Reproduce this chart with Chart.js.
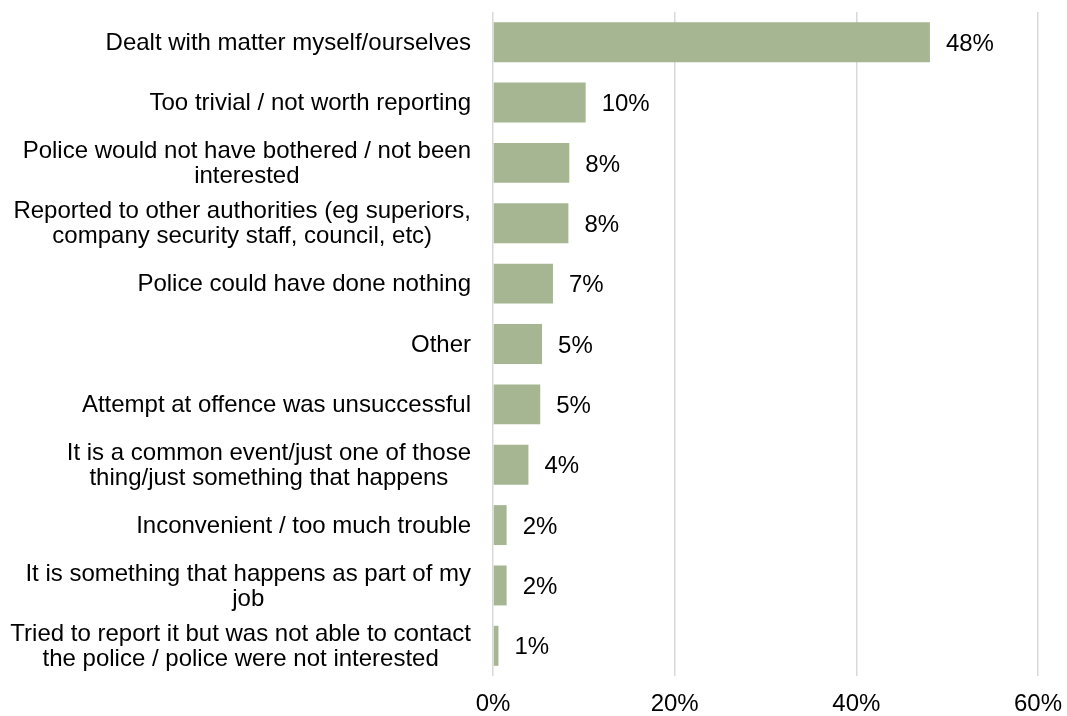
<!DOCTYPE html>
<html lang="en">
<head>
  <meta charset="UTF-8">
  <title>Reasons for not reporting</title>
  <style>
    html, body {
      margin: 0;
      padding: 0;
      background: #ffffff;
    }
    .wrap {
      width: 1067px;
      height: 716px;
      position: relative;
    }
  </style>
</head>
<body>
  <div class="wrap">
    <canvas id="reasonsChart"></canvas>
  </div>

  <script src="https://cdn.jsdelivr.net/npm/chart.js"></script>
  <script>
    // reasons, each one split into its printed lines
    const reasons = [
      ["Dealt with matter myself/ourselves"],
      ["Too trivial / not worth reporting"],
      ["Police would not have bothered / not been", "interested"],
      ["Reported to other authorities (eg superiors,", "company security staff, council, etc)"],
      ["Police could have done nothing"],
      ["Other"],
      ["Attempt at offence was unsuccessful"],
      ["It is a common event/just one of those", "thing/just something that happens"],
      ["Inconvenient / too much trouble"],
      ["It is something that happens as part of my", "job"],
      ["Tried to report it but was not able to contact", "the police / police were not interested"]
    ];
    const shares = [48.1, 10.2, 8.4, 8.3, 6.6, 5.4, 5.2, 3.9, 1.5, 1.5, 0.6];
    const xTicks = [0, 20, 40, 60];

    const FONT = "'Liberation Sans', Arial, sans-serif";
    const FONT_SIZE = 24;
    const PLOT_LEFT = 493;

    // category names drawn by hand so that wrapped lines centre on each other
    const categoryLabels = {
      id: 'categoryLabels',
      afterDraw(chart) {
        const ctx = chart.ctx;
        const y = chart.scales.y;
        const lineH = 25;
        ctx.save();
        ctx.font = FONT_SIZE + "px " + FONT;
        ctx.fillStyle = "#000000";
        ctx.textAlign = "center";
        ctx.textBaseline = "middle";
        reasons.forEach((lines, i) => {
          const cy = y.getPixelForValue(i) + 1;
          const w = Math.max(...lines.map(l => ctx.measureText(l).width));
          const cx = PLOT_LEFT - 22 - w / 2;
          const top = cy - (lines.length - 1) * lineH / 2;
          lines.forEach((l, k) => ctx.fillText(l, cx, top + k * lineH));
        });
        ctx.restore();
      }
    };

    // percentage label just past the end of each bar
    const valueLabels = {
      id: 'valueLabels',
      afterDatasetsDraw(chart) {
        const ctx = chart.ctx;
        const meta = chart.getDatasetMeta(0);
        ctx.save();
        ctx.font = FONT_SIZE + "px " + FONT;
        ctx.fillStyle = "#000000";
        ctx.textAlign = "left";
        ctx.textBaseline = "middle";
        meta.data.forEach((bar, i) => {
          ctx.fillText(Math.round(shares[i]) + "%", bar.x + 16, bar.y + 2);
        });
        ctx.restore();
      }
    };

    const ctx = document.getElementById("reasonsChart").getContext("2d");
    new Chart(ctx, {
      type: 'bar',
      data: {
        labels: reasons.map(r => r.join(" ")),
        datasets: [{
          data: shares,
          backgroundColor: '#a6b592',
          borderWidth: 0,
          barPercentage: 0.735,
          categoryPercentage: 0.9
        }]
      },
      options: {
        indexAxis: 'y',
        responsive: true,
        maintainAspectRatio: false,
        animation: false,
        layout: {
          padding: { top: 12, right: 29, bottom: 0, left: 0 }
        },
        plugins: {
          legend: { display: false },
          tooltip: { enabled: false }
        },
        scales: {
          x: {
            min: 0,
            max: 60,
            afterBuildTicks(scale) {
              scale.ticks = xTicks.map(v => ({ value: v }));
            },
            afterFit(scale) {
              scale.height = 40;
              scale.paddingLeft = 0;
              scale.paddingRight = 0;
            },
            grid: {
              color: '#d9d9d9',
              lineWidth: 1.5,
              drawTicks: false
            },
            border: { display: false },
            ticks: {
              padding: 14,
              maxRotation: 0,
              color: '#000000',
              font: { family: FONT, size: FONT_SIZE },
              callback: v => v + '%'
            }
          },
          y: {
            grid: { display: false },
            border: { display: false },
            ticks: { display: false },
            afterFit(scale) {
              scale.width = PLOT_LEFT;
            }
          }
        }
      },
      plugins: [categoryLabels, valueLabels]
    });
  </script>
</body>
</html>
